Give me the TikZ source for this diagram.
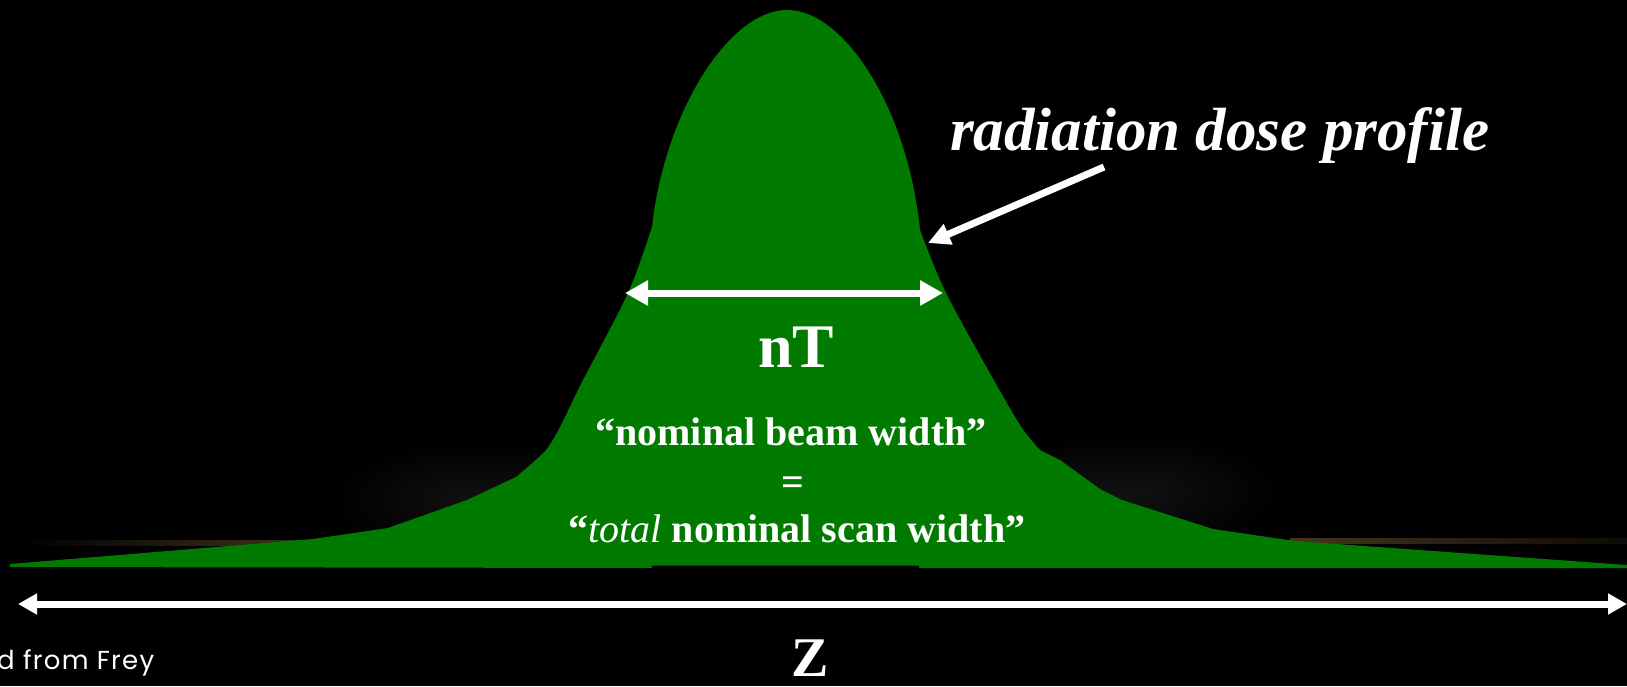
\documentclass[tikz,border=0pt]{standalone}
\usepackage{fontspec}
\setmainfont{Liberation Serif}
\newfontfamily\credfont[LetterSpace=5]{Poppins}
\usetikzlibrary{arrows.meta}
\definecolor{profgreen}{RGB}{0,123,0}
\definecolor{glowbrown}{RGB}{70,52,30}
\begin{document}
\begin{tikzpicture}[x=1pt,y=-1pt,
  wline/.style={draw=white, line width=7pt},
  dimarrow/.style={wline, {Triangle[length=23pt,width=24pt]}-{Triangle[length=23pt,width=24pt]}},
  zarrow/.style={wline, {Triangle[length=19pt,width=20pt]}-{Triangle[length=19pt,width=20pt]}},
  ptrarrow/.style={wline, -{Triangle[length=22pt,width=21pt]}},
  lbl/.style={text=white, inner sep=0pt, anchor=base},
  midtext/.style={lbl, font=\bfseries\fontsize{40}{48}\selectfont}
]
\fill[black] (0,0) rectangle (1627,686);
\useasboundingbox (0,0) rectangle (1627,686);

% faint glow behind the tails
\shade[inner color=black!93!white, outer color=black] (480,500) ellipse (150 and 60);
\shade[inner color=black!93!white, outer color=black] (1130,492) ellipse (150 and 60);
\shade[left color=black, right color=glowbrown] (20,540) rectangle (320,545);
\shade[left color=glowbrown, right color=black!80!glowbrown] (1290,538) rectangle (1627,543);

% dose profile
\fill[profgreen] (10,564) -- (313,539) -- (388,528) -- (467,500) -- (516,477)
  -- plot[smooth, tension=0.5] coordinates {(516,477) (545,451) (560,427) (581,384) (628,293) (652,227)}
  .. controls (665,110) and (730,10) .. (787,10)
  .. controls (845,10) and (908,110) .. (920,230)
  -- plot[smooth, tension=0.5] coordinates {(920,230) (946,293) (996,384) (1022,428) (1040,450)}
  -- (1060,460) -- (1100,489) -- (1122,500) -- (1213,529) -- (1295,541) -- (1627,565)
  -- (1627,568) -- (919,568) -- (919,565.5) -- (652,565.5) -- (652,568) -- (10,567) -- cycle;

% arrows
\coordinate (ntL) at (625,293);
\coordinate (ntR) at (943,293);
\draw[dimarrow] (ntL) -- (ntR);

\coordinate (zL) at (18,604);
\coordinate (zR) at (1627,604);
\draw[zarrow] (zL) -- (zR);

% labels
\node[lbl, anchor=base west, font=\bfseries\itshape\fontsize{61}{72}\selectfont] (rdp) at (950,150) {radiation dose profile};
\coordinate (ptrStart) at (1104,167);
\coordinate (ptrTip) at (928,243);
\draw[ptrarrow] (ptrStart) -- (ptrTip);

\node[lbl, font=\bfseries\fontsize{62}{74}\selectfont] (nt) at (796,367) {nT};
\node[midtext] (l1) at (791,445) {“nominal beam width”};
\node[midtext] (l2) at (793,495) {=};
\node[midtext] (l3) at (797,542) {“{\mdseries\itshape total} nominal scan width”};

\node[lbl, font=\bfseries\fontsize{56}{66}\selectfont] (z) at (810,676) {Z};

\node[lbl, anchor=base west, font=\credfont\fontsize{26}{30}\selectfont] (cred) at (-3,669) {d from Frey};
\end{tikzpicture}
\end{document}
